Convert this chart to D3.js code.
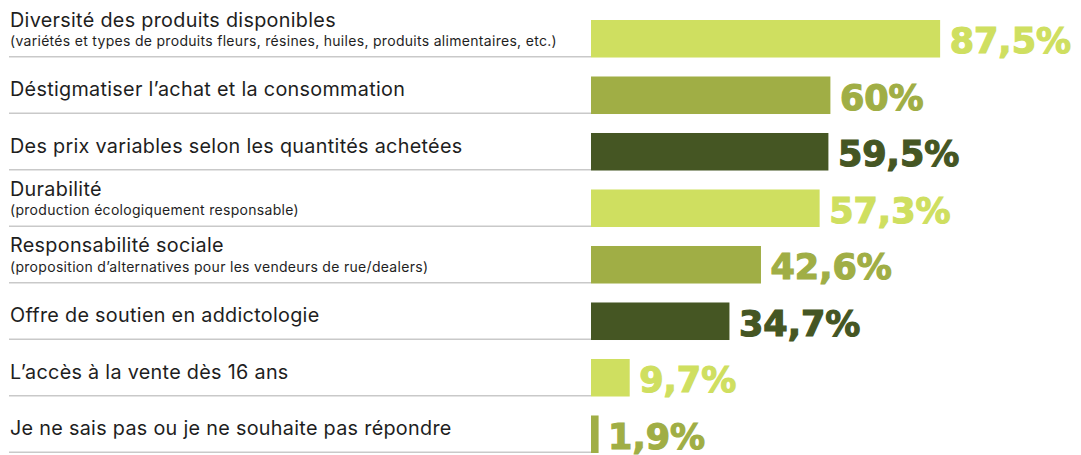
<!DOCTYPE html>
<html>
<head>
<meta charset="utf-8">
<script src="https://cdn.jsdelivr.net/npm/d3@7"></script>
<style>
  body { margin: 0; background: #fff; }
  svg { display: block; }
</style>
</head>
<body>
<div id="chart"></div>
<script>
// Row labels, sub-labels and values
var labels = [
    "Diversité des produits disponibles",
    "Déstigmatiser l’achat et la consommation",
    "Des prix variables selon les quantités achetées",
    "Durabilité",
    "Responsabilité sociale",
    "Offre de soutien en addictologie",
    "L’accès à la vente dès 16 ans",
    "Je ne sais pas ou je ne souhaite pas répondre"
];
var sublabels = [
    "(variétés et types de produits fleurs, résines, huiles, produits alimentaires, etc.)",
    "",
    "",
    "(production écologiquement responsable)",
    "(proposition d’alternatives pour les vendeurs de rue/dealers)",
    "",
    "",
    ""
];
var values = [87.5, 60, 59.5, 57.3, 42.6, 34.7, 9.7, 1.9];
var valueText = ["87,5%", "60%", "59,5%", "57,3%", "42,6%", "34,7%", "9,7%", "1,9%"];
var palette = ["#cfdf60", "#a0ae45", "#455623"];

var width = 1081, height = 455;

var svg = d3.select("#chart").append("svg")
    .attr("width", width)
    .attr("height", height);

// scales
var y = d3.scaleBand()
    .domain(d3.range(labels.length))
    .range([20, 453])
    .paddingInner(0.336)
    .paddingOuter(0);

var x = d3.scaleLinear()
    .domain([0, 100])
    .range([591, 990]);

var rows = svg.selectAll("g.row")
    .data(values)
    .enter().append("g")
    .attr("class", "row");

// gray rule under each label
rows.append("line")
    .attr("x1", 9)
    .attr("x2", x(0))
    .attr("y1", function(d, i) { return y(i) + y.bandwidth() - 0.75; })
    .attr("y2", function(d, i) { return y(i) + y.bandwidth() - 0.75; })
    .attr("stroke", "#c9c9c9")
    .attr("stroke-width", 1.5);

// bars
rows.append("rect")
    .attr("x", x(0))
    .attr("y", function(d, i) { return y(i); })
    .attr("width", function(d) { return x(d) - x(0); })
    .attr("height", y.bandwidth())
    .attr("fill", function(d, i) { return palette[i % 3]; });

// main labels
rows.append("text")
    .attr("x", 10)
    .attr("y", function(d, i) { return y(i) + (sublabels[i] ? 6.5 : 20); })
    .attr("font-family", "Inter, 'Liberation Sans', sans-serif")
    .attr("font-size", 19.8)
    .attr("letter-spacing", 0.3)
    .attr("fill", "#1e1e1e")
    .text(function(d, i) { return labels[i]; });

// sub labels
rows.filter(function(d, i) { return sublabels[i] !== ""; })
    .append("text")
    .attr("x", 10)
    .attr("y", function(d) { return y(values.indexOf(d)) + 26; })
    .attr("font-family", "Inter, 'Liberation Sans', sans-serif")
    .attr("font-size", 14)
    .attr("letter-spacing", 0.3)
    .attr("fill", "#1e1e1e")
    .text(function(d) { return sublabels[values.indexOf(d)]; });

// value labels
rows.append("text")
    .attr("x", function(d) { return x(d) + 9.5; })
    .attr("y", function(d, i) { return y(i) + y.bandwidth() - 4.5; })
    .attr("font-family", "'DejaVu Sans', sans-serif")
    .attr("font-weight", "bold")
    .attr("font-size", 35)
    .attr("fill", function(d, i) { return palette[i % 3]; })
    .attr("stroke", function(d, i) { return palette[i % 3]; })
    .attr("stroke-width", 1.2)
    .text(function(d, i) { return valueText[i]; });
</script>
</body>
</html>
